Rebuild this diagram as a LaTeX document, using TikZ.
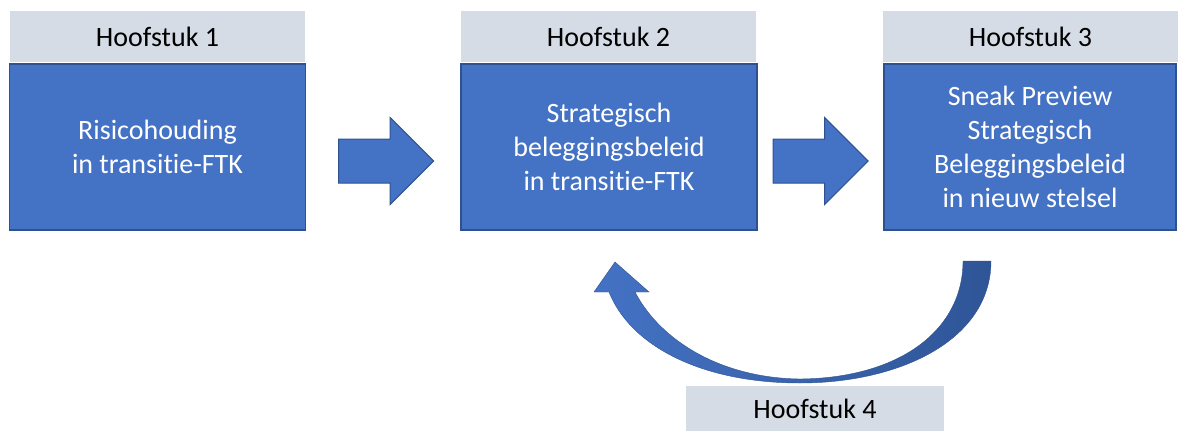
\documentclass[tikz,border=0pt]{standalone}
\usepackage{fontspec}
\setmainfont{Carlito}[Ligatures=NoCommon]
\usetikzlibrary{shapes.arrows,calc}
\definecolor{kopgrijs}{HTML}{D6DCE5}
\definecolor{blokblauw}{HTML}{4472C4}
\definecolor{randblauw}{HTML}{2F528F}
\definecolor{donkerblauw}{HTML}{2F5597}
\tikzset{
  kop/.style={shape=rectangle, fill=kopgrijs, minimum width=295pt, minimum height=51pt,
    inner sep=0pt, font=\fontsize{28}{34}\selectfont},
  blok/.style={shape=rectangle, draw=randblauw, line width=1.2pt, fill=blokblauw, text=white,
    minimum width=296pt, minimum height=166pt, align=center, font=\fontsize{28}{34}\selectfont},
  pijl/.style={shape=single arrow, draw=randblauw, fill=blokblauw, line width=1pt,
    inner xsep=0pt, inner ysep=21.5pt, single arrow head extend=21.5pt, minimum height=95pt,
    anchor=tail}
}
\begin{document}
\begin{tikzpicture}[x=1pt, y=-1pt]
    \useasboundingbox (0, 0) rectangle (1178, 431);

    \node [kop] (kop1) at (157.5, 36.5) {Hoofstuk 1};
    \node [kop] (kop2) at (608.5, 36.5) {Hoofstuk 2};
    \node [kop] (kop3) at (1030.5, 36.5) {Hoofstuk 3};
    \node [kop, minimum width=258pt, minimum height=45pt] (kop4) at (815, 408.5) {Hoofstuk 4};

    \node [blok] (blok1) at (157.5, 147) {Risicohouding\\in transitie-FTK};
    \node [blok] (blok2) at (609, 147) {Strategisch\\beleggingsbeleid\\in transitie-FTK};
    \node [blok, minimum width=292pt] (blok3) at (1030, 147) {Sneak Preview\\Strategisch\\Beleggingsbeleid\\in nieuw stelsel};

    % pijlen tussen de blokken
    \node [pijl] (pijl1) at ($(blok1.east)+(32, 14)$) {};
    \node [pijl] (pijl2) at ($(blok2.east)+(15, 14)$) {};

    % terug van hoofstuk 3 naar 2
    \shadedraw [left color=blokblauw, right color=donkerblauw, draw=randblauw, line width=0.4pt]
      (991, 261) .. controls (991, 340) and (900, 383) .. (800, 383)
      .. controls (700, 383) and (630, 345) .. (609, 292)
      -- (594, 292) -- (615, 262) -- (649, 292) -- (635, 292)
      .. controls (660, 340) and (720, 378) .. (800, 379)
      .. controls (900, 378) and (963, 330) .. (963, 261) -- cycle;
\end{tikzpicture}
\end{document}
